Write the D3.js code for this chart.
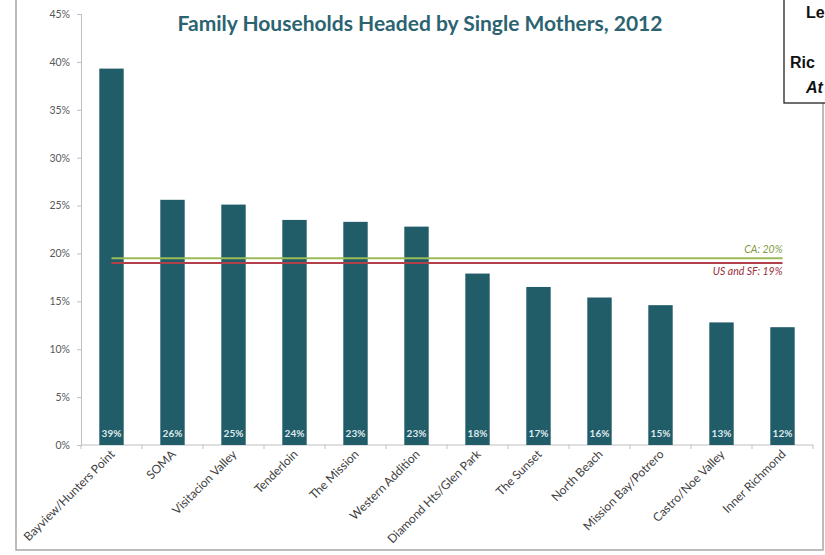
<!DOCTYPE html>
<html><head><meta charset="utf-8">
<script src="https://cdn.jsdelivr.net/npm/d3@7/dist/d3.min.js"></script>
<style>
html,body{margin:0;padding:0;background:#fff;}
svg{display:block;font-family:Lato,"Open Sans",sans-serif;}
</style></head>
<body>
<svg id="chart" width="825" height="555"></svg>
<script>
const categories = ["Bayview/Hunters Point","SOMA","Visitacion Valley","Tenderloin","The Mission","Western Addition","Diamond Hts/Glen Park","The Sunset","North Beach","Mission Bay/Potrero","Castro/Noe Valley","Inner Richmond"];
const values = [39.3, 25.6, 25.1, 23.5, 23.3, 22.8, 17.9, 16.5, 15.4, 14.6, 12.8, 12.3];
const valueLabels = ["39%","26%","25%","24%","23%","23%","18%","17%","16%","15%","13%","12%"];
const yTicks = [0,5,10,15,20,25,30,35,40,45];
const refLines = [
  {name:"CA: 20%", value:19.5, color:"#9bbb59", text:"#7f9a3f"},
  {name:"US and SF: 19%", value:19.0, color:"#b2404a", text:"#9b2d3a"}
];
const title = "Family Households Headed by Single Mothers, 2012";
const cornerText = ["Le","Ric","At"];

const svg = d3.select("#chart");
const x = d3.scaleBand().domain(categories).range([81, 813]).paddingInner(0.6).paddingOuter(0.3);
const y = d3.scaleLinear().domain([0,45]).range([445,14]);

// outer chart border
svg.append("path").attr("d","M16,-2 V550 H823 V-2").attr("fill","none").attr("stroke","#a6a6a6").attr("stroke-width",1.5);

// title
svg.append("text").attr("x",420).attr("y",31).attr("text-anchor","middle")
  .attr("font-size",21).attr("font-weight","bold").attr("fill","#2b6371").text(title);

// y axis
const yAxis = svg.append("g").attr("transform","translate(81,0)")
  .call(d3.axisLeft(y).tickValues(yTicks).tickSize(4).tickFormat(d=>d+"%"));
yAxis.select(".domain").attr("stroke","#bfbfbf");
yAxis.selectAll(".tick line").attr("stroke","#bfbfbf");
yAxis.selectAll(".tick text").attr("font-size",10.5).attr("fill","#595959").attr("x",-11).attr("font-family","Lato,sans-serif");

// x axis
const bw = (813-81)/categories.length;
const xAxis = svg.append("g").attr("transform","translate(0,445)");
xAxis.append("line").attr("x1",81).attr("x2",813).attr("stroke","#bfbfbf");
xAxis.selectAll("line.tk").data(d3.range(categories.length+1)).join("line").attr("class","tk")
  .attr("x1",i=>81+i*bw).attr("x2",i=>81+i*bw).attr("y1",0).attr("y2",4).attr("stroke","#bfbfbf");

// bars
svg.selectAll("rect.bar").data(categories).join("rect").attr("class","bar")
  .attr("x",d=>x(d)).attr("width",x.bandwidth())
  .attr("y",(d,i)=>y(values[i])).attr("height",(d,i)=>445-y(values[i]))
  .attr("fill","#215c69");

// value labels
svg.selectAll("text.vl").data(categories).join("text").attr("class","vl")
  .attr("x",d=>x(d)+x.bandwidth()/2).attr("y",437).attr("text-anchor","middle")
  .attr("font-size",10).attr("font-weight","bold").attr("fill","#dfe9ec")
  .text((d,i)=>valueLabels[i]);

// reference lines
const c0 = x(categories[0])+x.bandwidth()/2, c1 = x(categories[categories.length-1])+x.bandwidth()/2;
refLines.forEach((r,i)=>{
  svg.append("line").attr("x1",c0).attr("x2",c1).attr("y1",y(r.value)).attr("y2",y(r.value))
    .attr("stroke",r.color).attr("stroke-width",2);
  svg.append("text").attr("x",c1).attr("y", i===0 ? y(r.value)-5 : y(r.value)+12)
    .attr("text-anchor","end").attr("font-size",10.5).attr("font-style","italic").attr("fill",r.text).text(r.name);
});

// x labels
svg.selectAll("text.xl").data(categories).join("text").attr("class","xl")
  .attr("transform",d=>`translate(${x(d)+x.bandwidth()/2+4},455) rotate(-45)`)
  .attr("text-anchor","end").attr("font-size",12).attr("fill","#404040").text(d=>d);

// corner box (cropped)
svg.append("rect").attr("x",784).attr("y",-5).attr("width",60).attr("height",108)
  .attr("fill","#fff").attr("stroke","#222").attr("stroke-width",1.3);
const cf = "'Liberation Sans',Arial,sans-serif";
svg.append("text").attr("x",806).attr("y",18).attr("font-size",16).attr("font-weight","bold").attr("fill","#111").attr("font-family",cf).text(cornerText[0]);
svg.append("text").attr("x",790).attr("y",68).attr("font-size",16).attr("font-weight","bold").attr("fill","#111").attr("font-family",cf).text(cornerText[1]);
svg.append("text").attr("x",806).attr("y",93).attr("font-size",16).attr("font-weight","bold").attr("font-style","italic").attr("fill","#111").attr("font-family",cf).text(cornerText[2]);
</script>
</body></html>
